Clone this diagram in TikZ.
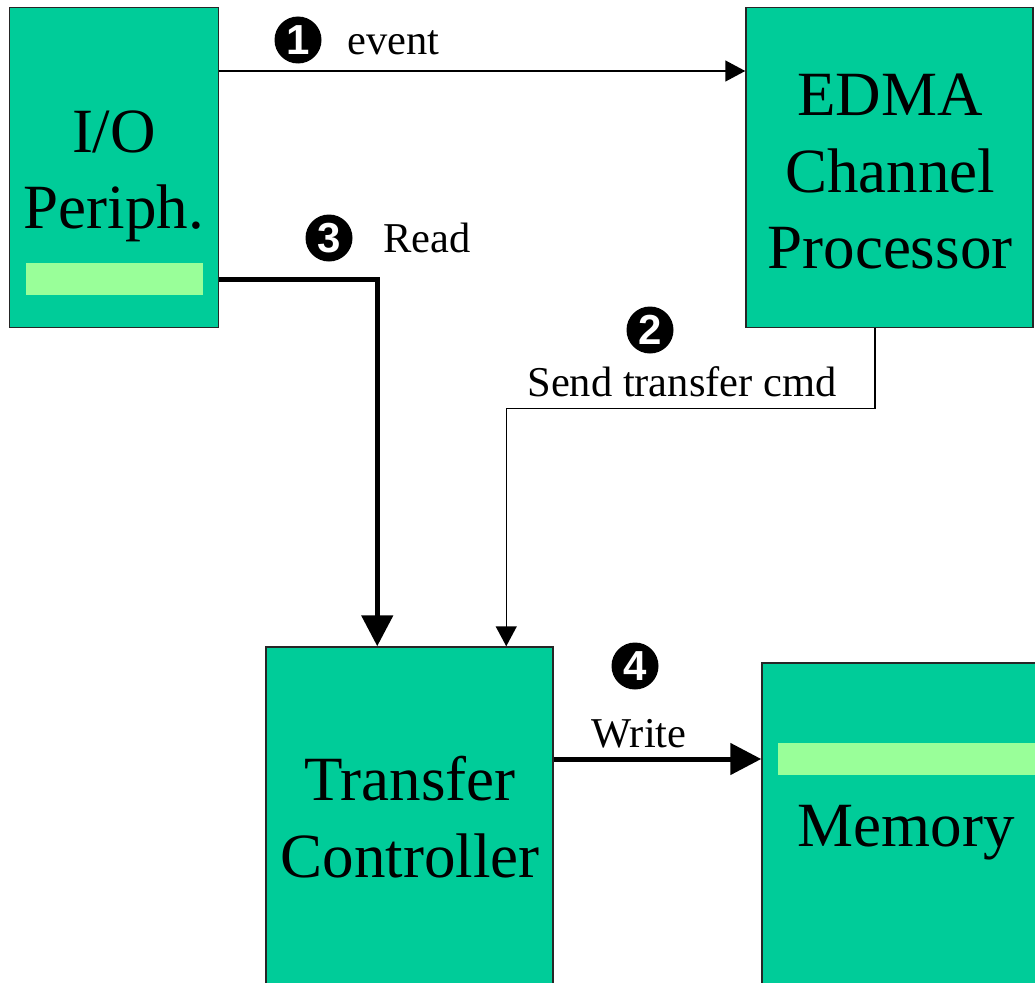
\documentclass[tikz,border=0pt]{standalone}
\usepackage{fontspec}
\setmainfont{Liberation Serif}
\newfontfamily\numfont{Liberation Sans}
\usetikzlibrary{arrows.meta}
\definecolor{blockteal}{HTML}{00CC99}
\definecolor{barlime}{HTML}{99FF99}
\tikzset{
  unit/.style={draw=black!85, line width=1.5pt, fill=blockteal, inner sep=0pt, rectangle},
  bar/.style={fill=barlime, draw=none, inner sep=0pt, rectangle},
  bigtxt/.style={font=\fontsize{63}{77}\selectfont, anchor=base, inner sep=0pt},
  lbl/.style={font=\fontsize{42.5}{48}\selectfont, anchor=base, inner sep=0pt},
  stepno/.style={circle, fill=black, text=white, inner sep=0pt, minimum size=47pt,
    font=\numfont\bfseries\fontsize{42}{42}\selectfont},
  thinlink/.style={line width=1.5pt, -{Triangle[width=21pt,length=20pt]}},
  thicklink/.style={line width=5pt, -{Triangle[width=31pt,length=31pt]}},
}
\begin{document}
\begin{tikzpicture}[x=1pt, y=-1pt]
\clip (0,0) rectangle (1035,982);
\fill[white] (0,0) rectangle (1035,982);

% blocks
\node[unit, minimum width=209pt, minimum height=320pt] (io) at (114,167.5) {};
\node[bar, minimum width=177pt, minimum height=32pt] (iobar) at (114.5,279) {};
\node[unit, minimum width=287pt, minimum height=320pt] (edma) at (889.5,167.5) {};
\node[unit, minimum width=287pt, minimum height=380pt] (tc) at (409.5,837) {};
\node[unit, minimum width=290pt, minimum height=360pt] (mem) at (907,843) {};
\node[bar, minimum width=280pt, minimum height=32pt] (membar) at (918,759) {};

% block titles
\node[bigtxt] (iot1) at (114,152) {I/O};
\node[bigtxt] (iot2) at (114,228) {Periph.};
\node[bigtxt] (ed1) at (890,115) {EDMA};
\node[bigtxt] (ed2) at (890,192) {Channel};
\node[bigtxt] (ed3) at (890,268) {Processor};
\node[bigtxt] (tc1) at (410,800) {Transfer};
\node[bigtxt] (tc2) at (410,877) {Controller};
\node[bigtxt] (mm1) at (906,846) {Memory};

% connectors
\draw[thinlink] (io.east |- 0,71) -- (edma.west |- 0,71);
\draw[thicklink] (io.east |- 0,279) -| ([xshift=112pt]tc.north west);
\draw[thinlink] ([xshift=-14.5pt]edma.south) -- ++(0,80) -| ([xshift=241pt]tc.north west);
\draw[thicklink] (tc.east |- 0,759) -- (mem.west |- 0,759);

% step markers and labels
\node[stepno] (s1) at (298,40) {1};
\node[lbl, anchor=base west] (l1) at (347,55) {event};
\node[stepno] (s3) at (329,238) {3};
\node[lbl, anchor=base west] (l3) at (383,252) {Read};
\node[stepno] (s2) at (650,330) {2};
\node[lbl] (l2) at (682,396) {Send transfer cmd};
\node[stepno] (s4) at (635,666) {4};
\node[lbl] (l4) at (639,747) {Write};
\end{tikzpicture}
\end{document}
